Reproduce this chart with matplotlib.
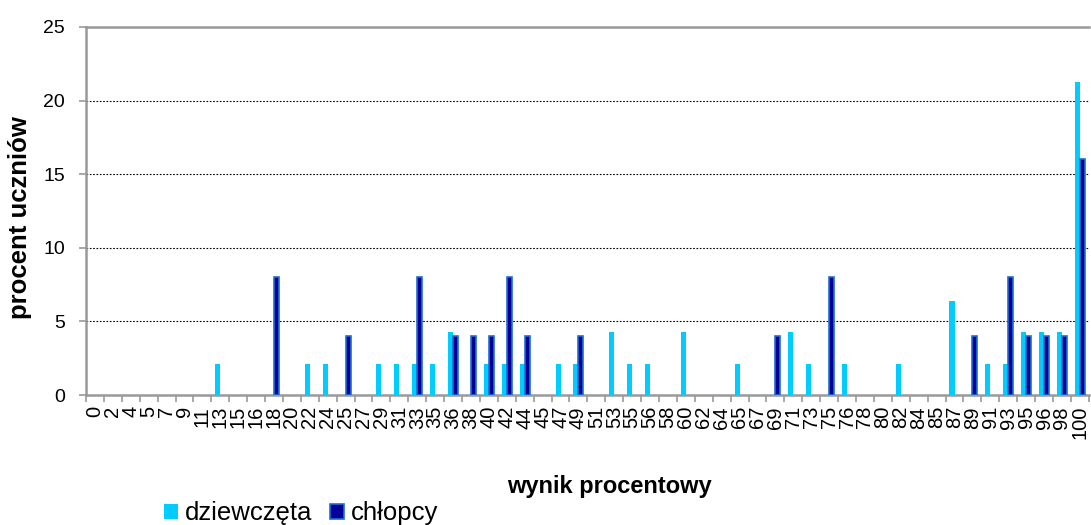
import matplotlib
matplotlib.use('Agg')
import matplotlib.pyplot as plt
import numpy as np

plt.rcParams['font.family'] = ['Liberation Sans', 'DejaVu Sans']

categories = [0, 2, 4, 5, 7, 9, 11, 13, 15, 16, 18, 20, 22, 24, 25, 27, 29, 31, 33, 35,
              36, 38, 40, 42, 44, 45, 47, 49, 51, 53, 55, 56, 58, 60, 62, 64, 65, 67, 69, 71,
              73, 75, 76, 78, 80, 82, 84, 85, 87, 89, 91, 93, 95, 96, 98, 100]

# percent of students per score (girls: n=47, boys: n=25)
girls = {13: 2.13, 22: 2.13, 24: 2.13, 29: 2.13, 31: 2.13, 33: 2.13, 35: 2.13,
         36: 4.26, 40: 2.13, 42: 2.13, 44: 2.13, 47: 2.13, 49: 2.13, 53: 4.26,
         55: 2.13, 56: 2.13, 60: 4.26, 65: 2.13, 71: 4.26, 73: 2.13, 76: 2.13,
         82: 2.13, 87: 6.38, 91: 2.13, 93: 2.13, 95: 4.26, 96: 4.26, 98: 4.26,
         100: 21.28}
boys = {18: 8, 25: 4, 33: 8, 36: 4, 38: 4, 40: 4, 42: 8, 44: 4, 49: 4, 69: 4,
        75: 8, 89: 4, 93: 8, 95: 4, 96: 4, 98: 4, 100: 16}

# zero values are left out (nan) so no outline shows on the axis
girls_vals = [girls.get(c, np.nan) for c in categories]
boys_vals = [boys.get(c, np.nan) for c in categories]

fig = plt.figure(figsize=(10.91, 5.25), dpi=100)
ax = fig.add_axes([0.0788, 0.2476, 0.9192, 0.701])

x = np.arange(len(categories))
w = 0.28
ax.bar(x - w / 2, girls_vals, w, color='#00CCFF', label='dziewczęta', zorder=3)
ax.bar(x + w / 2, boys_vals, w, color='#000099', edgecolor='#1E6FD0',
       linewidth=1.2, label='chłopcy', zorder=3)

ax.set_xlim(-0.5, len(categories) - 0.5)
ax.set_ylim(0, 25)
ax.set_yticks([0, 5, 10, 15, 20, 25])
for yv in [5, 10, 15, 20]:
    ax.axhline(yv, color='black', linestyle=(0, (1.5, 1.5)), linewidth=0.8, zorder=1)

ax.set_xticks(x)
ax.set_xticklabels([str(c) for c in categories], rotation=90, fontsize=14.5)
ax.set_xticks(np.arange(-0.5, len(categories), 1), minor=True)
ax.tick_params(axis='x', which='major', length=0, pad=8)
ax.tick_params(axis='x', which='minor', length=5, width=1.2, color='#999999')
ax.tick_params(axis='y', length=5, width=1.2, color='#999999', labelsize=14, pad=10)

for s in ['left', 'bottom', 'top']:
    ax.spines[s].set_color('#999999')
    ax.spines[s].set_linewidth(1.8)
ax.spines['right'].set_visible(False)

fig.text(0.559, 0.074, 'wynik procentowy', ha='center', va='center',
         fontsize=17, fontweight='bold')
fig.text(0.018, 0.585, 'procent uczniów', ha='center', va='center',
         rotation=90, fontsize=18.5, fontweight='bold')

fig.legend(loc='center', bbox_to_anchor=(0.276, 0.022), ncol=2, frameon=False,
           fontsize=18.5, handlelength=0.55, handleheight=0.55, handletextpad=0.27,
           columnspacing=0.7, borderpad=0)

fig.savefig('out.png', dpi=100)
